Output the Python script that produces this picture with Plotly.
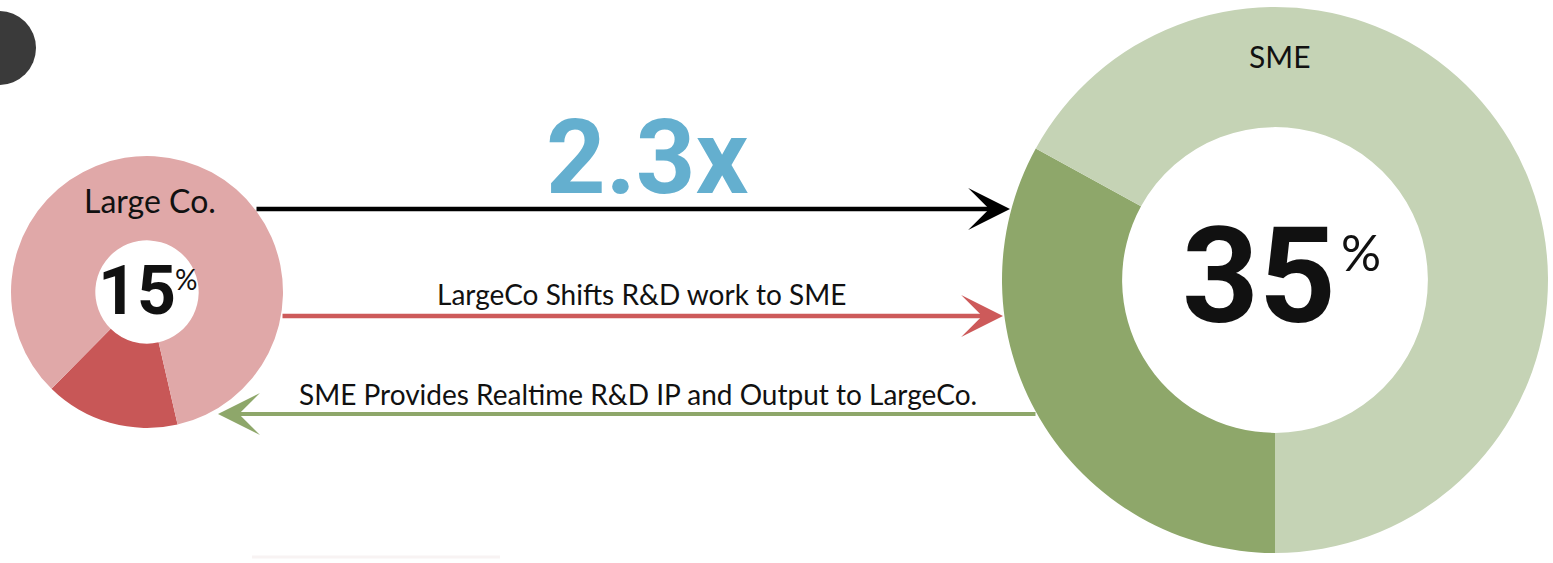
import plotly.graph_objects as go

W, H = 1553, 563

# ---- data ----
largeco_labels = ["Shifted to SME", "Retained"]
largeco_values = [16, 84]          # dark slice share as drawn
sme_labels = ["LargeCo R&D", "Other"]
sme_values = [33, 67]              # dark slice share as drawn
largeco_pct_text = "15"
sme_pct_text = "35"
multiplier_text = "2.3x"
flow_labels = ["LargeCo Shifts R&D work to SME",
               "SME Provides Realtime R&D IP and Output to LargeCo."]

# ---- colours ----
PINK_L, PINK_D = "#E0A8A8", "#C85757"
GREEN_L, GREEN_D = "#C5D3B5", "#8EA76A"
BLUE = "#64AFCF"
RED_ARROW = "#CD5A5A"

REG = "Lato, 'Open Sans', sans-serif"
BOLD = "Roboto, 'Open Sans', sans-serif"


def px(x):
    return x / W


def py(y):
    return 1 - y / H


def dom(cx, cy, r):
    return dict(x=[px(cx - r), px(cx + r)], y=[py(cy + r), py(cy - r)])


fig = go.Figure()
fig.add_trace(go.Pie(labels=largeco_labels, values=largeco_values, hole=0.38,
                     sort=False, direction="clockwise", rotation=167,
                     marker=dict(colors=[PINK_D, PINK_L], line=dict(width=0)),
                     textinfo="none", hoverinfo="label+percent",
                     domain=dom(147, 292, 136), showlegend=False))
fig.add_trace(go.Pie(labels=sme_labels, values=sme_values, hole=0.56,
                     sort=False, direction="clockwise", rotation=180,
                     marker=dict(colors=[GREEN_D, GREEN_L], line=dict(width=0)),
                     textinfo="none", hoverinfo="label+percent",
                     domain=dom(1275, 280, 273), showlegend=False))

ann = []


def text(s, x, y, size, family=REG, color="#111111", bold=False):
    ann.append(dict(text=f"<b>{s}</b>" if bold else s, x=px(x), y=py(y),
                    xref="paper", yref="paper", showarrow=False,
                    xanchor="center", yanchor="middle",
                    font=dict(size=size, family=family, color=color)))


def arrow(tail, tip, color, width, size):
    ann.append(dict(text="", x=px(tip[0]), y=py(tip[1]), xref="paper", yref="paper",
                    ax=tail[0] - tip[0], ay=tail[1] - tip[1], axref="pixel", ayref="pixel",
                    showarrow=True, arrowhead=3, arrowsize=size, arrowwidth=width,
                    arrowcolor=color, standoff=0))


arrow((255, 209), (1010, 209), "#000000", 4.5, 1.55)
arrow((281, 316), (1003, 316), RED_ARROW, 4.5, 1.55)
arrow((1037, 414), (218, 414), GREEN_D, 4, 1.75)

text("Large Co.", 150, 200, 32)
text("SME", 1279, 56, 30)
text(largeco_pct_text, 137, 291, 68, BOLD, bold=True)
text("%", 186, 279, 28)
text(sme_pct_text, 1259, 276, 134, BOLD, bold=True)
text("%", 1361, 252, 50)
text(multiplier_text, 647, 157, 104, BOLD, BLUE, bold=True)
text(flow_labels[0], 641, 294, 28)
text(flow_labels[1], 638, 394, 28)

shapes = [
    dict(type="circle", xref="paper", yref="paper",
         x0=px(-38), x1=px(36), y0=py(85), y1=py(11),
         fillcolor="#3A3A3A", line=dict(width=0), layer="above"),
    dict(type="line", xref="paper", yref="paper",
         x0=px(252), x1=px(500), y0=py(557), y1=py(557),
         line=dict(color="#F8F3F3", width=3)),
]

fig.update_layout(width=W, height=H, margin=dict(l=0, r=0, t=0, b=0),
                  paper_bgcolor="white", plot_bgcolor="white",
                  annotations=ann, shapes=shapes, showlegend=False)

fig.write_html("out.html", config={"displayModeBar": False},
               post_script="document.body.style.margin='0';document.body.style.overflow='hidden';")
